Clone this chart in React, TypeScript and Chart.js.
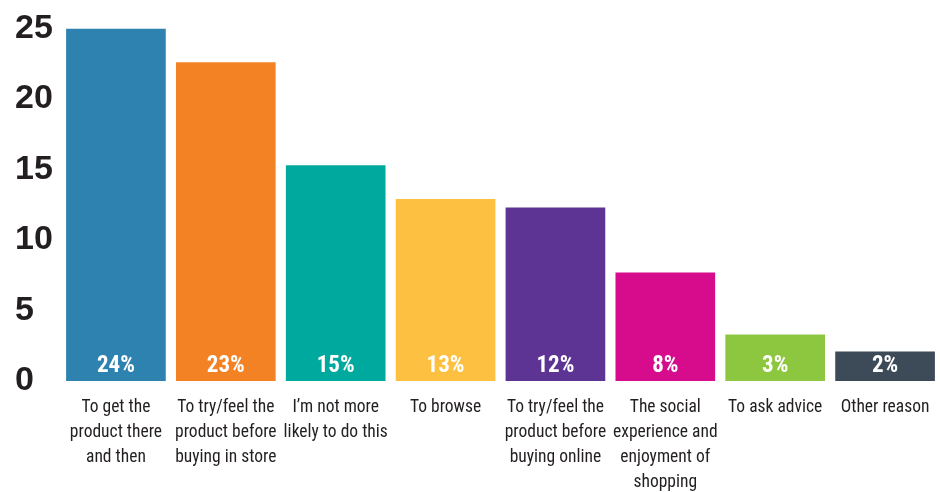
import React, { useEffect, useRef } from 'react';
import { Chart, registerables } from 'chart.js';

Chart.register(...registerables);

const categories: string[][] = [
  ['To get the', 'product there', 'and then'],
  ['To try/feel the', 'product before', 'buying in store'],
  ['I’m not more', 'likely to do this'],
  ['To browse'],
  ['To try/feel the', 'product before', 'buying online'],
  ['The social', 'experience and', 'enjoyment of', 'shopping'],
  ['To ask advice'],
  ['Other reason'],
];
const values = [25, 22.6, 15.3, 12.9, 12.3, 7.7, 3.3, 2.1];
const pctLabels = ['24%', '23%', '15%', '13%', '12%', '8%', '3%', '2%'];
const barColors = ['#2d82b0', '#f28224', '#00a99d', '#fdc040', '#5d3494', '#d60c8c', '#8dc63f', '#3d4a57'];
const yTickValues = [0, 5, 10, 15, 20, 25];

const NARROW = "'Roboto Condensed', 'Liberation Sans Narrow', sans-serif";

const pctPlugin = {
  id: 'pctLabels',
  afterDatasetsDraw(chart: any) {
    const meta = chart.getDatasetMeta(0);
    const yScale = chart.scales.y;
    const ctx = chart.ctx;
    ctx.save();
    ctx.fillStyle = '#ffffff';
    ctx.font = `bold 23px ${NARROW}`;
    ctx.textAlign = 'center';
    ctx.textBaseline = 'middle';
    meta.data.forEach((bar: any, i: number) => {
      ctx.fillText(pctLabels[i], bar.x, yScale.getPixelForValue(0) - 15);
    });
    ctx.restore();
  },
};

export default function App() {
  const ref = useRef<HTMLCanvasElement | null>(null);
  useEffect(() => {
    if (!ref.current) return;
    const chart = new Chart(ref.current, {
      type: 'bar',
      data: {
        labels: categories,
        datasets: [
          {
            data: values,
            backgroundColor: barColors,
            borderWidth: 0,
            categoryPercentage: 1,
            barPercentage: 0.907,
          },
        ],
      },
      options: {
        responsive: false,
        animation: false,
        devicePixelRatio: 1,
        layout: { padding: { left: 15, top: 28, right: -3, bottom: 0 } },
        plugins: { legend: { display: false }, tooltip: { enabled: false } },
        scales: {
          x: {
            grid: { display: false, drawTicks: false },
            border: { display: false },
            ticks: {
              autoSkip: false,
              maxRotation: 0,
              minRotation: 0,
              padding: 14,
              color: '#231f20',
              font: { family: NARROW, size: 17.5, lineHeight: 25 / 17.5 },
            },
            afterFit(scale: any) {
              scale.height = 111;
              scale.paddingLeft = 0;
              scale.paddingRight = 0;
            },
          },
          y: {
            min: 0,
            max: 25,
            grid: { display: false, drawTicks: false },
            border: { display: false },
            afterBuildTicks(scale: any) {
              scale.ticks = yTickValues.map((v) => ({ value: v }));
            },
            ticks: {
              crossAlign: 'far',
              padding: 8,
              color: '#231f20',
              font: { family: "'Liberation Sans', Arial, sans-serif", size: 34, weight: 'bold' },
            },
            afterFit(scale: any) {
              scale.width = 46;
            },
          },
        },
      },
      plugins: [pctPlugin],
    } as any);
    return () => chart.destroy();
  }, []);
  return (
    <div style={{ position: 'fixed', left: 0, top: 0, width: 940, height: 492, background: '#ffffff' }}>
      <canvas ref={ref} width={940} height={492} />
    </div>
  );
}
